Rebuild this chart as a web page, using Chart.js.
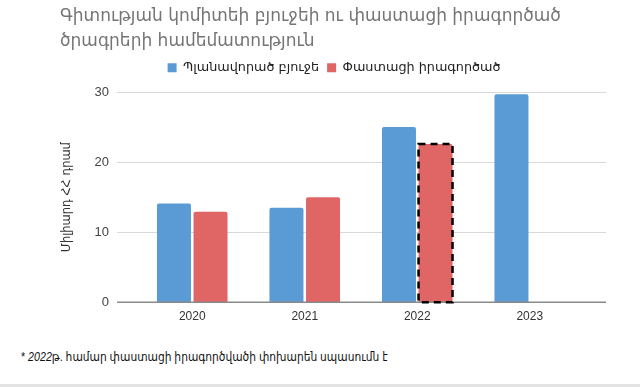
<!DOCTYPE html>
<html>
<head>
    <meta charset="utf-8" />
    <title>Բյուջե</title>
    <script src="https://cdn.jsdelivr.net/npm/chart.js@4/dist/chart.umd.min.js"></script>
    <style>
        body {
            margin: 0;
            background: #fff;
            font-family: "Liberation Sans", "DejaVu Sans", sans-serif;
        }
        #wrap {
            position: relative;
            width: 640px;
            height: 384px;
            border-bottom: 3px solid #e3e3e3;
        }
        #footnote {
            position: absolute;
            left: 21px;
            top: 349px;
            font-size: 13px;
            color: #111;
            white-space: nowrap;
            transform: scaleX(0.82);
            transform-origin: left center;
        }
    </style>
</head>
<body>
    <div id="wrap">
        <canvas id="chtBudget" width="640" height="337"></canvas>
        <div id="footnote">* <i>2022</i>թ. համար փաստացի իրագործվածի փոխարեն սպասումն է</div>
    </div>

    <script>
        // տվյալներ
        const years = ['2020', '2021', '2022', '2023'];
        const planned = [14.1, 13.5, 25.0, 29.7];
        const actual = [12.9, 15.0, 22.6, null];
        const yTicks = [0, 10, 20, 30];
        const dashedIndex = 2; // 2022 - սպասում

        const fontFam = '"DejaVu Sans", sans-serif';

        // extra room under the legend + shift it a bit right
        const legendPlugin = {
            id: 'legendGap',
            beforeInit(chart) {
                const origFit = chart.legend.fit;
                chart.legend.fit = function () {
                    origFit.bind(chart.legend)();
                    this.height += 8;
                };
            },
            afterLayout(chart) {
                chart.legend.left += 14;
                chart.legend.right += 14;
                chart.titleBlock.left += 6;
                chart.titleBlock.right += 6;
            }
        };

        // grid lines wider than the category area
        const gridPlugin = {
            id: 'wideGrid',
            beforeDatasetsDraw(chart) {
                const ctx = chart.ctx;
                const area = chart.chartArea;
                const y = chart.scales.y;
                ctx.save();
                yTicks.forEach(v => {
                    if (v === 0) return;
                    const py = Math.round(y.getPixelForValue(v)) + 0.5;
                    ctx.strokeStyle = '#d9d9d9';
                    ctx.lineWidth = 1;
                    ctx.beginPath();
                    ctx.moveTo(area.left - 19, py);
                    ctx.lineTo(area.right + 20, py);
                    ctx.stroke();
                });
                ctx.restore();
            },
            afterDatasetsDraw(chart) {
                const ctx = chart.ctx;
                const area = chart.chartArea;
                const y = chart.scales.y;
                ctx.save();
                const py = y.getPixelForValue(0);
                ctx.strokeStyle = '#8a8a8a';
                ctx.lineWidth = 1.5;
                ctx.beginPath();
                ctx.moveTo(area.left - 19, py);
                ctx.lineTo(area.right + 20, py);
                ctx.stroke();

                // dashed border for the expected value
                const bar = chart.getDatasetMeta(1).data[dashedIndex];
                if (bar) {
                    const p = bar.getProps(['x', 'y', 'base', 'width'], true);
                    ctx.strokeStyle = '#000';
                    ctx.lineWidth = 2.5;
                    ctx.setLineDash([7, 5]);
                    ctx.strokeRect(p.x - p.width / 2, p.y, p.width, p.base - p.y);
                }
                ctx.restore();
            }
        };

        new Chart(document.getElementById('chtBudget').getContext('2d'), {
            type: 'bar',
            data: {
                labels: years,
                datasets: [{
                    label: 'Պլանավորած բյուջե',
                    data: planned,
                    backgroundColor: '#5b9bd5',
                    borderRadius: 2,
                    barPercentage: 0.93,
                    categoryPercentage: 0.65
                }, {
                    label: 'Փաստացի իրագործած',
                    data: actual,
                    backgroundColor: '#e06666',
                    borderRadius: 2,
                    barPercentage: 0.93,
                    categoryPercentage: 0.65
                }]
            },
            options: {
                responsive: false,
                animation: false,
                layout: {
                    padding: { left: 54, right: 54, top: 2, bottom: 0 }
                },
                plugins: {
                    title: {
                        display: true,
                        align: 'start',
                        text: ['Գիտության կոմիտեի բյուջեի ու փաստացի իրագործած', 'ծրագրերի համեմատություն'],
                        color: '#757575',
                        font: { family: fontFam, size: 17, weight: 'normal', lineHeight: 1.42 },
                        padding: { top: 3, bottom: 0 }
                    },
                    legend: {
                        display: true,
                        position: 'top',
                        labels: {
                            boxWidth: 9,
                            boxHeight: 9,
                            padding: 8,
                            color: '#222',
                            font: { family: fontFam, size: 12.8 }
                        }
                    },
                    tooltip: { enabled: false }
                },
                scales: {
                    x: {
                        grid: { display: false, drawTicks: false },
                        border: { display: false },
                        ticks: {
                            color: '#333',
                            padding: 7,
                            font: { family: '"Liberation Sans", sans-serif', size: 12 }
                        },
                        afterFit(scale) { scale.height = 28; }
                    },
                    y: {
                        min: 0,
                        max: 30,
                        ticks: {
                            stepSize: 10,
                            color: '#444',
                            padding: 27,
                            font: { family: '"Liberation Sans", sans-serif', size: 13 }
                        },
                        grid: { display: false, drawTicks: false },
                        border: { display: false },
                        title: {
                            display: true,
                            text: 'Միլիարդ ՀՀ դրամ',
                            color: '#333',
                            padding: { top: 6, bottom: 0 },
                            font: { family: fontFam, size: 11.5 }
                        },
                        afterFit(scale) { scale.width = 82; }
                    }
                }
            },
            plugins: [gridPlugin, legendPlugin]
        });
    </script>
</body>
</html>
